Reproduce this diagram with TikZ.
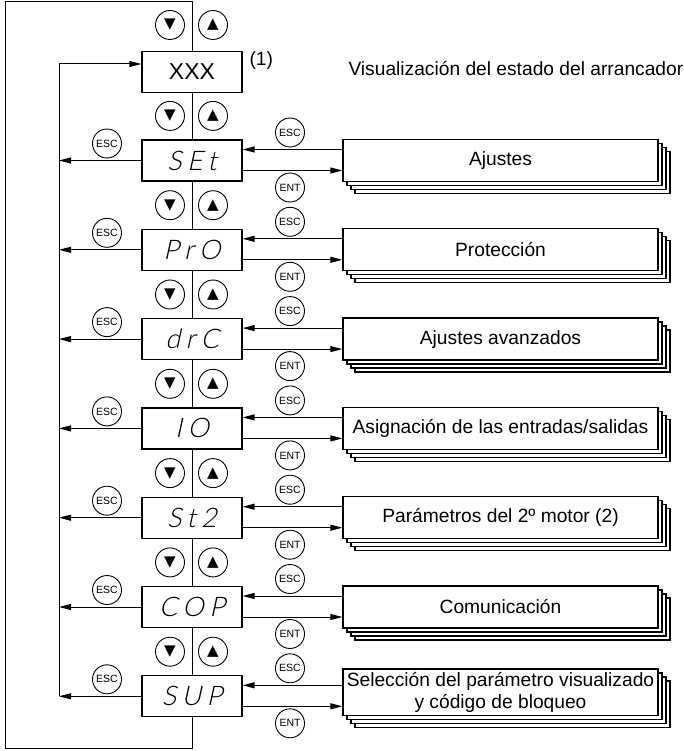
\documentclass[tikz,border=0pt]{standalone}
\usepackage{fontspec}
\setmainfont{Liberation Sans}
\newfontfamily\segfont[LetterSpace=20, FakeSlant=0.22]{Lato Light}
\newfontfamily\symfont{DejaVu Sans}
\usetikzlibrary{arrows.meta,positioning,calc,shadows}

\begin{document}
\begin{tikzpicture}[
  x=1pt, y=-1pt, >={Triangle[length=12pt,width=6pt]},
  every node/.style={font=\fontsize{19.2}{22}\selectfont},
  line width=1pt,
  disp/.style={draw, fill=white, line width=1.3pt, minimum width=100pt,
               minimum height=41pt, font=\segfont\fontsize{27}{27}\selectfont},
  layer/.style={shadow xshift=#1, shadow yshift=-#1, draw=black,
                fill=white, line width=1.3pt},
  menu/.style={draw, fill=white, line width=1.3pt, minimum width=315pt,
               minimum height=42pt, align=center,
               copy shadow={layer=12pt}, copy shadow={layer=8pt},
               copy shadow={layer=4pt}},
  key/.style={draw, circle, fill=white, line width=0.9pt, minimum size=29pt,
              inner sep=0pt, font=\fontsize{10.5}{10.5}\selectfont},
  btn/.style={key, font=\symfont\fontsize{15}{15}\selectfont},
]
\useasboundingbox (0,0) rectangle (683,751);

\node[disp, font=\fontsize{23}{23}\selectfont] (d0) at (192,72) {XXX};
\node[btn] (dn0) at (170,25) {▼};
\node[btn] (up0) at (213,25) {▲};
\node[anchor=base west, inner sep=0pt] (note) at (249,66) {(1)};
\node[anchor=base west, inner sep=0pt] (title) at (348,76)
  {Visualización del estado del arrancador};
\coordinate (rail) at (59,64);

\foreach \i/\code/\txt/\dy [remember=\i as \j (initially 0)] in {
    1/SEt/Ajustes/0, 2/PrO/Protección/0, 3/drC/Ajustes avanzados/0,
    4/IO/{Asignación de las entradas/salidas}/0,
    5/St2/Parámetros del 2º motor (2)/0, 6/COP/Comunicación/0,
    7/SUP/{Selección del parámetro visualizado\\y código de bloqueo}/-4} {
  \pgfmathsetmacro\yc{160.5+89.3*(\i-1)}
  \node[btn] (dn\i) at (170,\yc-44.6) {▼};
  \node[btn] (up\i) at (213,\yc-44.6) {▲};
  \node[disp] (d\i) at (192,\yc) {\code};
  \node[menu] (m\i) at (500.5,\yc+\dy) {\txt};
  \node[key] (escl\i) at (107,\yc-17) {ESC};
  \node[key] (escr\i) at (290,\yc-28) {ESC};
  \node[key] (ent\i) at (290,\yc+27) {ENT};
  \coordinate (e\i) at ([yshift=11pt]d\i.east);
  \coordinate (n\i) at ([yshift=-10pt]d\i.east);
  \draw (d\j.south) -- (d\i.north);
  \draw[->] (d\i.west) -- (d\i.west -| rail);
  \draw[->] (e\i -| m\i.west) -- (e\i);
  \draw[->] (n\i) -- (n\i -| m\i.west);
}

% return path and outer loop
\draw[->] (rail |- d7.west) -- (rail) -- ([yshift=8pt]d0.west);
\draw (d0.north) |- (5,2) -- (5,748) -| (d7.south);
\end{tikzpicture}
\end{document}
